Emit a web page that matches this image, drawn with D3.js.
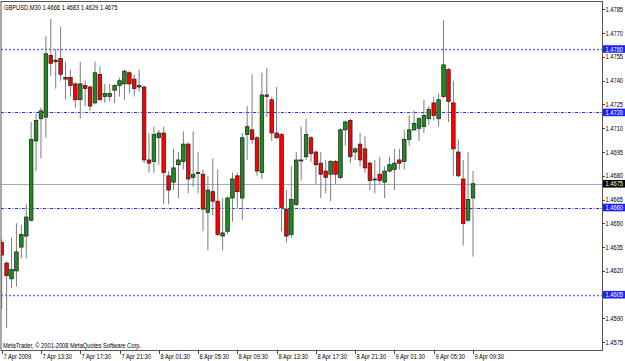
<!DOCTYPE html>
<html>
<head>
<meta charset="utf-8">
<script src="https://cdn.jsdelivr.net/npm/d3@7"></script>
<style>
  html, body { margin: 0; padding: 0; background: #ffffff; }
  svg { display: block; }
  text { font-family: "Liberation Sans", Arial, sans-serif; font-size: 7px; }
</style>
</head>
<body>
<div class="chart-container"></div>
<script>
// GBPUSD M30 bars, 7 Apr 09:30 -> 9 Apr 09:30
const symbol = 'GBPUSD,M30';

const open = [
  1.4638, 1.4625, 1.4615, 1.4620, 1.4635, 1.4642, 1.4652, 1.4702, 1.4716, 1.4717,
  1.4756, 1.4753, 1.4754, 1.4742, 1.4742, 1.4738, 1.4728, 1.4737, 1.4736, 1.4726,
  1.4744, 1.4730, 1.4730, 1.4734, 1.4737, 1.4738, 1.4745, 1.4741, 1.4736, 1.4736,
  1.4690, 1.4689, 1.4704, 1.4707, 1.4680, 1.4676, 1.4687, 1.4689, 1.4700, 1.4679,
  1.4682, 1.4681, 1.4657, 1.4670, 1.4664, 1.4642, 1.4645, 1.4666, 1.4680, 1.4666,
  1.4706, 1.4709, 1.4704, 1.4682, 1.4731, 1.4728, 1.4707, 1.4706, 1.4659, 1.4643,
  1.4662, 1.4690, 1.4692, 1.4704, 1.4695, 1.4688, 1.4683, 1.4681, 1.4689, 1.4679,
  1.4709, 1.4715, 1.4695, 1.4700, 1.4697, 1.4688, 1.4678, 1.4681, 1.4676, 1.4683,
  1.4684, 1.4690, 1.4689, 1.4703, 1.4709, 1.4710, 1.4711, 1.4716, 1.4726, 1.4716,
  1.4730, 1.4747, 1.4726, 1.4695, 1.4678, 1.4652, 1.4666
];
const high = [
  1.4640, 1.4626, 1.4641, 1.4650, 1.4649, 1.4662, 1.4714, 1.4719, 1.4723, 1.4768,
  1.4779, 1.4760, 1.4774, 1.4752, 1.4747, 1.4739, 1.4752, 1.4740, 1.4737, 1.4752,
  1.4749, 1.4738, 1.4738, 1.4738, 1.4742, 1.4747, 1.4746, 1.4744, 1.4747, 1.4737,
  1.4707, 1.4711, 1.4709, 1.4711, 1.4683, 1.4697, 1.4695, 1.4708, 1.4701, 1.4708,
  1.4695, 1.4684, 1.4680, 1.4691, 1.4684, 1.4666, 1.4667, 1.4682, 1.4682, 1.4707,
  1.4724, 1.4744, 1.4705, 1.4745, 1.4748, 1.4730, 1.4736, 1.4707, 1.4671, 1.4686,
  1.4695, 1.4711, 1.4716, 1.4705, 1.4696, 1.4695, 1.4690, 1.4690, 1.4690, 1.4710,
  1.4715, 1.4716, 1.4698, 1.4707, 1.4705, 1.4689, 1.4690, 1.4692, 1.4686, 1.4692,
  1.4697, 1.4697, 1.4709, 1.4718, 1.4721, 1.4717, 1.4728, 1.4724, 1.4730, 1.4732,
  1.4778, 1.4748, 1.4740, 1.4703, 1.4690, 1.4695, 1.4683
];
const low = [
  1.4596, 1.4584, 1.4609, 1.4610, 1.4628, 1.4628, 1.4651, 1.4683, 1.4691, 1.4704,
  1.4743, 1.4735, 1.4740, 1.4728, 1.4730, 1.4723, 1.4716, 1.4724, 1.4721, 1.4725,
  1.4727, 1.4726, 1.4727, 1.4726, 1.4730, 1.4728, 1.4732, 1.4730, 1.4733, 1.4688,
  1.4682, 1.4682, 1.4687, 1.4662, 1.4662, 1.4671, 1.4666, 1.4684, 1.4669, 1.4673,
  1.4669, 1.4645, 1.4633, 1.4655, 1.4642, 1.4633, 1.4643, 1.4651, 1.4660, 1.4652,
  1.4690, 1.4700, 1.4680, 1.4678, 1.4717, 1.4702, 1.4703, 1.4645, 1.4638, 1.4641,
  1.4661, 1.4677, 1.4690, 1.4689, 1.4675, 1.4666, 1.4669, 1.4664, 1.4675, 1.4678,
  1.4699, 1.4688, 1.4690, 1.4686, 1.4682, 1.4671, 1.4669, 1.4675, 1.4666, 1.4682,
  1.4671, 1.4684, 1.4684, 1.4699, 1.4708, 1.4702, 1.4707, 1.4712, 1.4715, 1.4711,
  1.4729, 1.4714, 1.4680, 1.4679, 1.4636, 1.4651, 1.4629
];
const close = [
  1.4630, 1.4617, 1.4621, 1.4632, 1.4643, 1.4654, 1.4703, 1.4715, 1.4721, 1.4757,
  1.4751, 1.4752, 1.4744, 1.4741, 1.4737, 1.4728, 1.4738, 1.4735, 1.4724, 1.4745,
  1.4728, 1.4732, 1.4732, 1.4737, 1.4740, 1.4746, 1.4738, 1.4735, 1.4737, 1.4690,
  1.4688, 1.4706, 1.4707, 1.4682, 1.4671, 1.4685, 1.4690, 1.4700, 1.4678, 1.4681,
  1.4682, 1.4659, 1.4671, 1.4664, 1.4643, 1.4644, 1.4666, 1.4678, 1.4670, 1.4704,
  1.4711, 1.4703, 1.4683, 1.4731, 1.4730, 1.4707, 1.4704, 1.4660, 1.4642, 1.4665,
  1.4690, 1.4690, 1.4706, 1.4694, 1.4687, 1.4681, 1.4679, 1.4689, 1.4681, 1.4709,
  1.4714, 1.4692, 1.4697, 1.4690, 1.4685, 1.4677, 1.4678, 1.4677, 1.4683, 1.4687,
  1.4688, 1.4688, 1.4703, 1.4709, 1.4713, 1.4716, 1.4718, 1.4722, 1.4718, 1.4728,
  1.4750, 1.4727, 1.4697, 1.4680, 1.4650, 1.4665, 1.4675
];

// time axis labels, one every 8 bars (4 hours)
const timeLabels = [
  '7 Apr 2009', '7 Apr 13:30', '7 Apr 17:30', '7 Apr 21:30', '8 Apr 01:30',
  '8 Apr 05:30', '8 Apr 09:30', '8 Apr 13:30', '8 Apr 17:30', '8 Apr 21:30',
  '9 Apr 01:30', '9 Apr 05:30', '9 Apr 09:30'
];
const timeLabelBars = [0, 8, 16, 24, 32, 40, 48, 56, 64, 72, 80, 88, 96];

// price axis ticks
const priceTicks = [
  1.4785, 1.4770, 1.4755, 1.4740, 1.4725, 1.4710, 1.4695, 1.4680,
  1.4665, 1.4650, 1.4635, 1.4620, 1.4605, 1.4590, 1.4575
];

// horizontal lines drawn on the chart
const levelPrices = [1.4760, 1.4720, 1.4660, 1.4605];
const levelStyles = ['dot', 'dashdot', 'dashdot', 'dot'];
const bidPrice = 1.4675;

function graph () {
    const dims = { width: 625, height: 361 };
    // plot frame (the price scale sits to the right of it)
    const frame = { left: 1, right: 602.5, top: 1.5, bottom: 350.5 };

    const bars = open.map((o, i) => ({ i, o, h: high[i], l: low[i], c: close[i] }));

    const svg = d3.select('div.chart-container')
        .append('svg')
        .attr('width', dims.width)
        .attr('height', dims.height);

    svg.append('rect')
        .attr('width', dims.width)
        .attr('height', dims.height)
        .attr('fill', '#ffffff');

    // x: bar index -> pixel, y: price -> pixel
    const x = d3.scaleLinear().domain([0, bars.length - 1]).range([1.7, 473]);
    const y = d3.scaleLinear().domain([1.4605, 1.4760]).range([294.7, 49]);

    svg.append('defs').append('clipPath')
        .attr('id', 'plot-clip')
        .append('rect')
        .attr('x', frame.left)
        .attr('y', frame.top)
        .attr('width', frame.right - frame.left)
        .attr('height', frame.bottom - frame.top);

    const plot = svg.append('g').attr('clip-path', 'url(#plot-clip)');

    // level lines
    const levelDash = { dot: '2,2', dashdot: '3,1.5,1,1.5' };
    const levelColor = { dot: '#6a6aff', dashdot: '#2a2aff' };
    plot.selectAll('line.level')
        .data(levelPrices)
        .enter()
        .append('line')
        .attr('class', 'level')
        .attr('x1', frame.left)
        .attr('x2', frame.right)
        .attr('y1', d => Math.round(y(d)) + 0.5)
        .attr('y2', d => Math.round(y(d)) + 0.5)
        .attr('stroke', (d, i) => levelColor[levelStyles[i]])
        .attr('stroke-width', (d, i) => levelStyles[i] === 'dot' ? 1.3 : 1)
        .attr('stroke-dasharray', (d, i) => levelDash[levelStyles[i]]);

    // bid line
    plot.append('line')
        .attr('x1', frame.left)
        .attr('x2', frame.right)
        .attr('y1', Math.round(y(bidPrice)) + 0.5)
        .attr('y2', Math.round(y(bidPrice)) + 0.5)
        .attr('stroke', '#a3abc4')
        .attr('stroke-width', 1);

    // candles
    const bodyW = 3.6;
    const candle = plot.selectAll('g.candle')
        .data(bars)
        .enter()
        .append('g')
        .attr('class', 'candle');

    candle.append('line')
        .attr('x1', d => x(d.i))
        .attr('x2', d => x(d.i))
        .attr('y1', d => y(d.h))
        .attr('y2', d => y(d.l))
        .attr('stroke', '#7c7c7c')
        .attr('stroke-width', 1);

    candle.append('rect')
        .attr('x', d => x(d.i) - bodyW / 2)
        .attr('y', d => y(Math.max(d.o, d.c)))
        .attr('width', bodyW)
        .attr('height', d => Math.max(1, Math.abs(y(d.o) - y(d.c))))
        .attr('fill', d => d.c > d.o ? '#1f8a1f' : (d.c < d.o ? '#ff0000' : '#555555'))
        .attr('stroke', '#1c1c1c')
        .attr('stroke-width', 0.7);

    // frame
    svg.append('rect')
        .attr('x', frame.left)
        .attr('y', frame.top)
        .attr('width', frame.right - frame.left)
        .attr('height', frame.bottom - frame.top)
        .attr('fill', 'none')
        .attr('stroke', '#555555')
        .attr('stroke-width', 1);

    // narrow text, the screenshot font is condensed
    const say = (g, tx, ty, str, fill) => g.append('text')
        .attr('transform', `translate(${tx},${ty}) scale(0.82,1)`)
        .attr('fill', fill || '#000000')
        .text(str);

    // price scale
    const yAxis = svg.append('g');
    priceTicks.forEach(t => {
        yAxis.append('line')
            .attr('x1', frame.right)
            .attr('x2', frame.right + 2.5)
            .attr('y1', Math.round(y(t)) + 0.5)
            .attr('y2', Math.round(y(t)) + 0.5)
            .attr('stroke', '#444444');
        say(yAxis, frame.right + 3, y(t) + 2.5, t.toFixed(4));
    });

    // time scale
    const xAxis = svg.append('g');
    timeLabelBars.forEach((b, k) => {
        const tx = Math.round(x(b)) + 0.5;
        xAxis.append('line')
            .attr('x1', tx)
            .attr('x2', tx)
            .attr('y1', frame.bottom)
            .attr('y2', frame.bottom + 3.5)
            .attr('stroke', '#444444');
        say(xAxis, tx + 1, 358.5, timeLabels[k]);
    });

    // highlighted price labels on the scale
    const tagged = levelPrices.map(p => ({ p, bg: '#2020ff' }))
        .concat([{ p: bidPrice, bg: '#000000' }]);
    tagged.forEach(d => {
        yAxis.append('rect')
            .attr('x', frame.right + 0.5)
            .attr('y', y(d.p) - 3.8)
            .attr('width', dims.width - frame.right)
            .attr('height', 7.6)
            .attr('fill', d.bg);
        say(yAxis, frame.right + 3, y(d.p) + 2.5, d.p.toFixed(4), '#ffffff');
    });

    // header and copyright
    const last = bars.length - 1;
    say(svg, 4, 9.5, `${symbol}  ${open[last].toFixed(4)} ${high[last].toFixed(4)} ${low[last].toFixed(4)} ${close[last].toFixed(4)}`);
    say(svg, 3, 348, 'MetaTrader, \u00a9 2001-2008 MetaQuotes Software Corp.');
}

graph();
</script>
</body>
</html>
